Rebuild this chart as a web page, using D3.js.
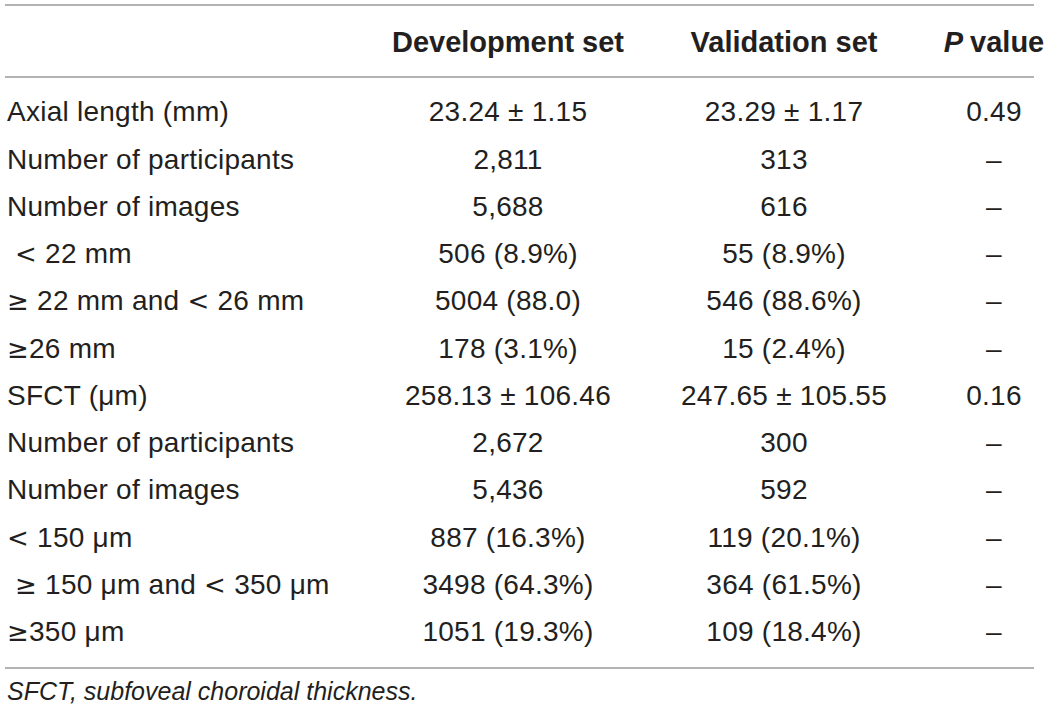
<!DOCTYPE html>
<html>
<head>
<meta charset="utf-8">
<script src="https://cdn.jsdelivr.net/npm/d3@7"></script>
<style>
  body { margin: 0; background: #fff; }
  text { font-family: "Liberation Sans", Arial, sans-serif; fill: #231f20; }
  .cell { font-size: 28px; letter-spacing: 0.25px; }
  .sym { font-family: "DejaVu Sans", sans-serif; font-size: 26px; }
  .head { font-size: 29px; font-weight: bold; }
  .note { font-size: 25px; font-style: italic; }
  .rule { stroke: #9a9a9a; stroke-width: 1.5; }
</style>
</head>
<body>
<div id="table"></div>
<script>
var svgWidth = 1048;
var svgHeight = 715;

// table content
var headers = ["Development set", "Validation set", "value"];

var rowLabels = [
  "Axial length (mm)",
  "Number of participants",
  "Number of images",
  "\u00a0< 22 mm",
  "\u2265 22 mm and < 26 mm",
  "\u226526 mm",
  "SFCT (\u03bcm)",
  "Number of participants",
  "Number of images",
  "< 150 \u03bcm",
  "\u00a0\u2265 150 \u03bcm and < 350 \u03bcm",
  "\u2265350 \u03bcm"
];

var devValues = [
  "23.24 \u00b1 1.15", "2,811", "5,688", "506 (8.9%)", "5004 (88.0)", "178 (3.1%)",
  "258.13 \u00b1 106.46", "2,672", "5,436", "887 (16.3%)", "3498 (64.3%)", "1051 (19.3%)"
];

var valValues = [
  "23.29 \u00b1 1.17", "313", "616", "55 (8.9%)", "546 (88.6%)", "15 (2.4%)",
  "247.65 \u00b1 105.55", "300", "592", "119 (20.1%)", "364 (61.5%)", "109 (18.4%)"
];

var pValues = ["0.49", "\u2013", "\u2013", "\u2013", "\u2013", "\u2013",
  "0.16", "\u2013", "\u2013", "\u2013", "\u2013", "\u2013"];

var footnote = "SFCT, subfoveal choroidal thickness.";

var svg = d3.select("#table")
  .append("svg")
  .attr("width", svgWidth)
  .attr("height", svgHeight);

// scales for rows and columns
var yScale = d3.scaleBand()
  .domain(d3.range(rowLabels.length))
  .range([88, 655]);

var xScale = d3.scaleOrdinal()
  .domain([0, 1, 2])
  .range([508, 784, 994]);

var rowY = i => yScale(i) + yScale.bandwidth() / 2;

// horizontal rules
[5, 77, 668].forEach(function(y) {
  svg.append("line")
    .attr("class", "rule")
    .attr("x1", 5)
    .attr("x2", 1034)
    .attr("y1", y)
    .attr("y2", y);
});

// header
var head = svg.selectAll(".head")
  .data(headers)
  .enter()
  .append("text")
  .attr("class", "head")
  .attr("x", (d, i) => xScale(i))
  .attr("y", 42)
  .attr("dy", "0.35em")
  .attr("text-anchor", "middle");

head.filter((d, i) => i === 2)
  .append("tspan")
  .style("font-style", "italic")
  .text("P ");
head.append("tspan").text(d => d);

// row labels, math signs set in a wider symbol font
var labels = svg.selectAll(".label")
  .data(rowLabels)
  .enter()
  .append("text")
  .attr("class", "cell label")
  .attr("x", 7)
  .attr("y", (d, i) => rowY(i))
  .attr("dy", "0.35em");

labels.selectAll("tspan")
  .data(d => d.split(/([<\u2265])/).filter(s => s.length))
  .enter()
  .append("tspan")
  .attr("class", s => /[<\u2265]/.test(s) ? "sym" : null)
  .text(s => s);

// value columns
[devValues, valValues, pValues].forEach(function(col, c) {
  svg.selectAll(".col" + c)
    .data(col)
    .enter()
    .append("text")
    .attr("class", "cell col" + c)
    .attr("x", xScale(c))
    .attr("y", (d, i) => rowY(i))
    .attr("dy", "0.35em")
    .attr("text-anchor", "middle")
    .text(d => d);
});

svg.append("text")
  .attr("class", "note")
  .attr("x", 7)
  .attr("y", 691)
  .attr("dy", "0.35em")
  .text(footnote);
</script>
</body>
</html>
